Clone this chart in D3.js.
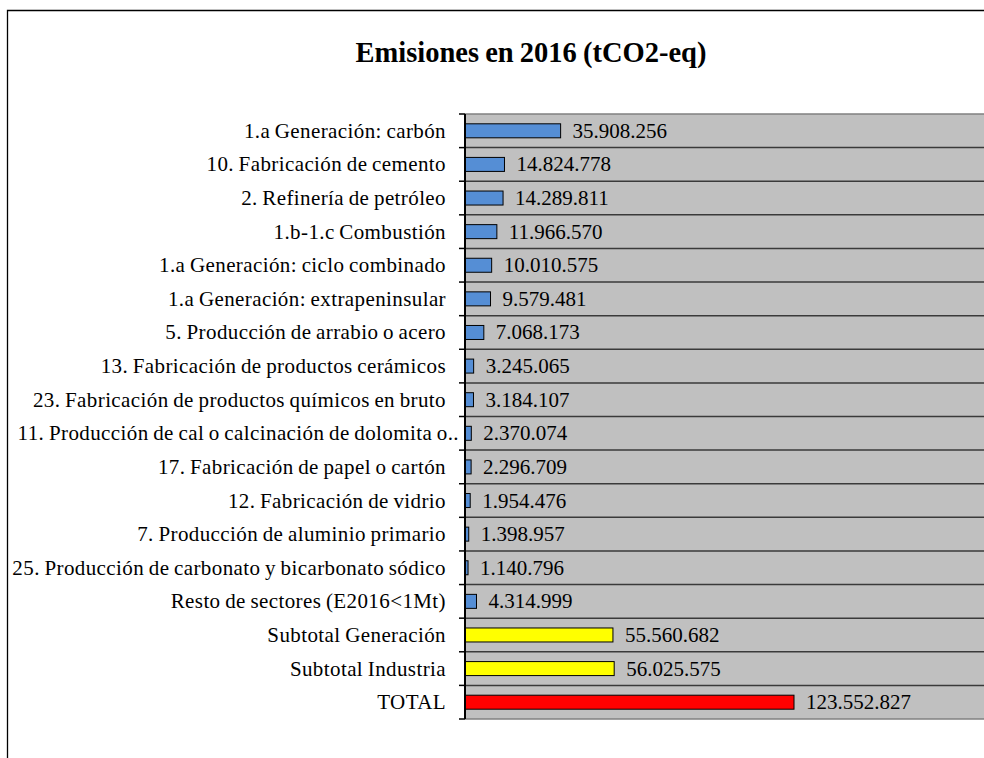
<!DOCTYPE html>
<html><head><meta charset="utf-8">
<script src="https://cdn.jsdelivr.net/npm/d3@7"></script>
<style>
html,body{margin:0;padding:0;background:#fff;}
svg{display:block;}
</style></head>
<body>
<svg id="chart" width="984" height="758"></svg>
<script>
const categories = [
  "1.a Generación: carbón",
  "10. Fabricación de cemento",
  "2. Refinería de petróleo",
  "1.b-1.c Combustión",
  "1.a Generación: ciclo combinado",
  "1.a Generación: extrapeninsular",
  "5. Producción de arrabio o acero",
  "13. Fabricación de productos cerámicos",
  "23. Fabricación de productos químicos en bruto",
  "11. Producción de cal o calcinación de dolomita o..",
  "17. Fabricación de papel o cartón",
  "12. Fabricación de vidrio",
  "7. Producción de aluminio primario",
  "25. Producción de carbonato y bicarbonato sódico",
  "Resto de sectores (E2016<1Mt)",
  "Subtotal Generación",
  "Subtotal Industria",
  "TOTAL"
];
const values = [35908256,14824778,14289811,11966570,10010575,9579481,7068173,3245065,3184107,2370074,2296709,1954476,1398957,1140796,4314999,55560682,56025575,123552827];
const valueLabels = ["35.908.256","14.824.778","14.289.811","11.966.570","10.010.575","9.579.481","7.068.173","3.245.065","3.184.107","2.370.074","2.296.709","1.954.476","1.398.957","1.140.796","4.314.999","55.560.682","56.025.575","123.552.827"];
const groups = ["sector","sector","sector","sector","sector","sector","sector","sector","sector","sector","sector","sector","sector","sector","sector","subtotal","subtotal","total"];
const title = "Emisiones en 2016 (tCO2-eq)";

const colors = {sector:"#558ED5", subtotal:"#FFFF00", total:"#FF0000"};
const FONT = "'Liberation Serif', 'Times New Roman', Times, 'DejaVu Serif', serif";

const svg = d3.select("#chart");
const plot = {left:465, right:990, top:114, bottom:719};

svg.append("path").attr("d","M7.5,760 V10.5 H990").attr("fill","none").attr("stroke","#000").attr("stroke-width",1.3);

svg.append("text").attr("x",531).attr("y",62).attr("text-anchor","middle")
  .attr("font-family",FONT).attr("font-size",28.5).attr("font-weight","bold")
  .attr("word-spacing","-1px").text(title);

const y = d3.scaleBand().domain(categories).range([plot.top, plot.bottom]).paddingInner(0).paddingOuter(0);
const x = d3.scaleLinear().domain([0, 123552827]).range([plot.left, 794]);

svg.append("rect").attr("x",plot.left).attr("y",plot.top).attr("width",plot.right-plot.left).attr("height",plot.bottom-plot.top).attr("fill","#C0C0C0");
svg.append("line").attr("x1",plot.left).attr("x2",plot.right).attr("y1",plot.top).attr("y2",plot.top).attr("stroke","#808080").attr("stroke-width",1.5);

svg.append("g").selectAll("line").data(categories.slice(1)).join("line")
  .attr("x1",plot.left).attr("x2",plot.right)
  .attr("y1",d=>y(d)).attr("y2",d=>y(d))
  .attr("stroke","#3a3a3a").attr("stroke-width",1.5);
svg.append("line").attr("x1",plot.left).attr("x2",plot.right).attr("y1",plot.bottom).attr("y2",plot.bottom).attr("stroke","#808080").attr("stroke-width",1.5);

const bh = 14;
svg.append("g").selectAll("rect").data(categories).join("rect")
  .attr("x", x(0))
  .attr("y", d=>y(d)+y.bandwidth()/2-bh/2)
  .attr("width", (d,i)=>x(values[i])-x(0))
  .attr("height", bh)
  .attr("fill",(d,i)=>colors[groups[i]])
  .attr("stroke","#000").attr("stroke-width",1);

svg.append("g").selectAll("text").data(categories).join("text")
  .attr("x",(d,i)=>x(values[i])+12)
  .attr("y", d=>y(d)+y.bandwidth()/2+7)
  .attr("font-family",FONT).attr("font-size",21)
  .text((d,i)=>valueLabels[i]);

const axisG = svg.append("g");
axisG.append("line").attr("x1",plot.left).attr("x2",plot.left).attr("y1",plot.top).attr("y2",plot.bottom).attr("stroke","#000").attr("stroke-width",2);
const bounds = categories.map(d=>y(d)).concat([plot.bottom]);
axisG.selectAll("line.tick").data(bounds).join("line").attr("class","tick")
  .attr("x1",plot.left-6).attr("x2",plot.left).attr("y1",d=>d).attr("y2",d=>d)
  .attr("stroke","#000").attr("stroke-width",1.5);

svg.append("g").selectAll("text").data(categories).join("text")
  .attr("x", d=> d.endsWith("..") ? 459 : 446)
  .attr("y", d=>y(d)+y.bandwidth()/2+7)
  .attr("text-anchor","end")
  .attr("font-family",FONT).attr("font-size",21).attr("letter-spacing","0.4px").attr("word-spacing","-1px")
  .text(d=>d);
</script>
</body></html>
